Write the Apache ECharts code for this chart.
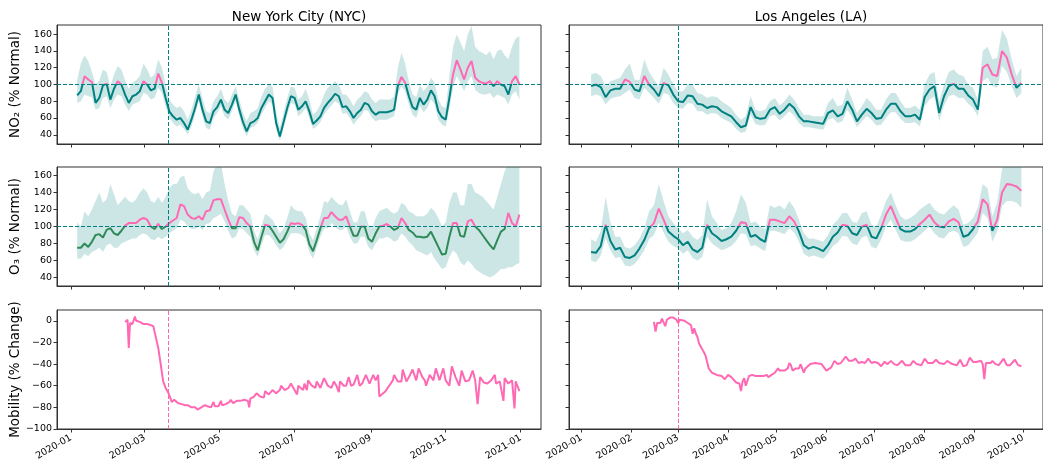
<!DOCTYPE html>
<html>
<head>
<meta charset="utf-8">
<script src="https://cdn.jsdelivr.net/npm/echarts@6/dist/echarts.min.js"></script>
<style>
  html, body { margin: 0; padding: 0; background: #fff; }
  #chart { width: 1043px; height: 463px; }
</style>
</head>
<body>
<div id="chart"></div>
<script>
// pollution: one reading every 3 days
const nycStart = '2020-01-06';
const laStart = '2020-01-07';
const stepDays = 3;

const nycNo2 = [87,92,110,106,103,78,84,99,101,82, 95,104,100,88,78,86,88,92,104,100,
  93,95,113,102,84,68,62,58,60,54, 46,58,72,88,70,56,54,68,73,82,
  70,66,76,88,70,55,44,54,56,60, 72,80,88,84,54,38,55,72,86,84,
  70,74,80,68,53,57,62,72,78,83, 89,86,73,74,68,60,66,70,78,76,
  68,64,67,67,67,68,70,98,109,102, 86,73,70,84,76,82,93,86,68,61,
  58,84,112,129,118,106,120,128,108,104, 102,101,104,98,104,100,98,88,104,110, 100];
const nycNo2Hi = [105,125,135,128,115,100,105,118,115,98, 112,122,118,105,95,102,105,110,125,118,
  108,112,130,120,100,82,76,72,74,68, 58,70,86,100,84,68,66,80,86,95,
  82,78,88,98,82,66,56,66,68,72, 86,95,100,98,66,48,66,84,98,96,
  82,86,95,82,64,68,76,88,96,100, 104,100,88,88,82,74,82,86,92,90,
  82,78,82,82,82,82,86,120,138,125, 104,88,85,100,92,98,108,102,82,74,
  72,110,145,160,150,140,160,170,145,140, 138,135,140,130,140,142,135,130,145,155, 158];
const nycNo2Lo = [78,80,88,86,85,70,72,84,86,72, 82,88,86,76,68,76,78,80,90,88,
  82,84,96,90,74,60,54,50,52,47, 40,50,64,80,62,48,46,60,66,74,
  62,58,68,80,62,47,38,48,50,54, 64,72,80,76,46,33,48,64,78,76,
  62,66,72,60,47,50,55,64,70,75, 80,77,65,66,60,52,58,62,70,68,
  60,56,58,58,58,60,62,88,98,92, 76,64,60,74,67,72,82,76,58,52,
  50,72,96,110,102,92,104,110,94,90, 88,88,90,84,88,86,84,76,88,92, 82];

const nycO3 = [75,75,80,76,82,90,91,87,96,98, 92,90,95,101,104,104,104,108,110,108,
  100,97,103,97,100,104,107,110,126,124, 114,110,109,112,108,118,119,131,132,132,
  120,108,98,98,111,110,104,100,82,72, 88,102,101,95,88,81,85,94,104,103,
  104,102,96,79,71,84,98,110,110,117, 112,108,108,112,100,89,89,100,100,86,
  82,92,100,101,103,100,96,98,110,104, 96,93,88,88,87,88,94,85,76,67,
  68,88,104,104,89,88,106,108,100,96, 90,84,78,73,84,94,97,116,104,100, 114];
const nycO3Hi = [105,100,118,112,120,130,140,128,132,150, 138,125,130,135,130,128,132,140,145,140,
  130,128,135,128,135,145,150,150,158,160, 145,140,138,140,132,140,142,165,175,175,
  150,130,115,112,125,125,120,115,95,85, 100,115,112,108,100,92,98,110,125,120,
  118,118,110,92,84,98,112,130,128,135, 130,126,125,132,118,105,105,118,118,102,
  98,110,118,120,122,118,115,118,128,125, 118,116,112,112,112,115,122,118,110,100,
  105,128,140,140,125,125,150,150,140,138, 135,130,125,120,135,150,165,175,175,175, 175];
const nycO3Lo = [62,62,68,65,70,72,75,70,78,80, 75,75,80,82,84,86,86,90,92,90,
  85,84,88,85,88,92,95,98,108,106, 100,97,97,100,96,103,104,110,112,115,
  106,95,86,88,98,97,92,88,72,64, 78,90,90,85,78,72,76,84,92,92,
  92,90,86,70,62,75,88,98,98,104, 100,96,96,100,88,80,80,88,88,76,
  72,80,86,86,88,86,82,84,92,88, 82,78,72,70,68,66,70,62,56,50,
  52,64,72,68,58,54,60,56,50,47, 44,42,40,42,46,50,50,52,52,55, 57];

const laNo2 = [98,100,97,85,93,95,95,106,103,94, 92,110,100,94,86,102,99,88,80,79,
  87,86,77,76,72,74,73,68,65,62, 55,49,51,73,61,59,60,70,73,65,
  70,77,72,62,56,56,55,54,53,66, 69,62,65,80,70,56,64,71,66,59,
  60,70,77,77,68,62,62,64,58,85, 94,98,66,86,98,101,95,95,87,82,
  70,120,124,112,110,140,132,112,96,102];
const laNo2Hi = [112,114,110,98,104,106,108,118,125,106, 105,130,115,106,98,120,112,100,92,92,
  100,100,90,88,84,86,85,80,76,72, 64,58,62,86,70,68,70,80,84,75,
  80,88,82,72,64,64,62,62,62,78, 84,74,76,96,82,66,74,84,78,70,
  70,82,90,90,80,72,72,75,70,100, 112,115,80,100,115,118,112,110,100,96,
  82,140,145,130,132,165,155,130,110,120];
const laNo2Lo = [86,88,86,76,83,85,86,90,94,84, 82,96,90,84,77,90,88,78,72,71,
  78,77,68,68,64,66,65,60,57,54, 47,42,44,64,53,51,52,62,64,57,
  62,68,63,54,49,49,48,47,46,58, 60,54,56,70,61,49,56,62,58,51,
  52,60,67,67,59,54,54,55,50,74, 82,86,56,75,86,88,84,84,77,72,
  62,104,108,98,96,122,115,98,84,90];

const laO3 = [70,69,77,102,83,73,75,64,63,66, 74,84,98,104,121,108,94,89,85,78,
  82,73,70,75,102,92,88,83,85,88, 95,105,104,88,90,85,82,108,108,106,
  104,112,106,94,78,74,76,74,71,78, 88,93,102,101,92,90,100,102,88,86,
  98,114,124,110,97,94,94,97,103,108, 114,105,100,99,106,109,105,88,90,97,
  106,132,126,95,108,140,150,149,147,142];
const laO3Hi = [85,82,95,135,105,88,88,76,74,78, 86,98,118,125,150,130,112,104,98,92,
  96,88,84,90,132,112,104,96,98,104, 118,138,128,104,106,100,97,125,122,125,
  120,130,122,108,92,86,86,84,82,90, 102,108,116,116,106,104,116,118,102,100,
  114,130,140,125,112,108,110,114,120,124, 128,120,116,114,120,125,120,102,104,110,
  122,150,145,112,128,168,175,175,175,172];
const laO3Lo = [60,58,66,86,72,63,64,54,53,56, 63,72,85,90,104,93,82,77,74,68,
  72,63,60,64,88,80,76,72,74,77, 83,92,91,77,78,74,71,95,95,93,
  91,98,93,82,68,64,66,64,62,68, 77,81,89,88,80,78,87,89,76,74,
  85,100,108,96,84,82,82,85,90,95, 100,92,87,86,93,95,92,76,78,85,
  93,116,110,82,94,124,130,130,128,122];

// mobility, 2020 dates (MM-DD)
const nycMobDates = ['02-14','02-16','02-17','02-18','02-20','02-22','02-23','02-26','02-29','03-03',
  '03-06','03-08','03-09','03-12','03-14','03-16','03-18','03-20','03-22','03-23',
  '03-25','03-28','03-31','04-03','04-05','04-08','04-11','04-13','04-16','04-19',
  '04-21','04-24','04-26','04-27','04-30','05-02','05-03','05-06','05-09','05-10',
  '05-12','05-15','05-18','05-21','05-24','05-25','05-26','05-29','05-31','06-03',
  '06-06','06-07','06-10','06-13','06-16','06-19','06-20','06-23','06-26','06-28',
  '06-30','07-03','07-04','07-06','07-08','07-09','07-11','07-12','07-15','07-18',
  '07-19','07-22','07-25','07-28','07-31','08-02','08-04','08-06','08-07','08-10',
  '08-12','08-14','08-16','08-18','08-21','08-23','08-25','08-28','08-31','09-03',
  '09-05','09-07','09-08','09-13','09-16','09-19','09-20','09-23','09-26','09-27',
  '09-30','10-03','10-05','10-08','10-10','10-13','10-15','10-16','10-19','10-22',
  '10-24','10-27','10-30','11-01','11-04','11-06','11-09','11-12','11-14','11-17',
  '11-20','11-23','11-25','11-27','11-29','12-02','12-05','12-08','12-11','12-12',
  '12-15','12-18','12-19','12-22','12-25','12-27','12-28','12-30','12-31'];
const nycMobVals = [-1,1,-25,-2,-3,4,0,-1,-3,-3,
  -4,-5,-10,-25,-40,-56,-62,-66,-72,-75,
  -73,-76,-77,-78,-78,-80,-80,-82,-80,-78,
  -79,-80,-75,-79,-79,-74,-78,-77,-75,-73,
  -76,-74,-74,-73,-74,-80,-72,-70,-67,-70,
  -71,-65,-68,-64,-67,-64,-60,-64,-62,-58,
  -62,-68,-60,-62,-64,-58,-64,-55,-60,-62,
  -56,-62,-53,-60,-62,-56,-60,-66,-56,-60,
  -60,-52,-60,-59,-50,-60,-58,-50,-58,-50,
  -55,-50,-70,-65,-60,-55,-50,-56,-56,-45,
  -56,-50,-45,-55,-44,-52,-55,-60,-50,-55,
  -44,-55,-44,-55,-60,-42,-52,-60,-46,-56,
  -55,-46,-55,-77,-52,-57,-58,-55,-50,-58,
  -56,-74,-53,-58,-55,-81,-56,-62,-65];

const laMobDates = ['02-15','02-16','02-17','02-19','02-20','02-22','02-23','02-25','02-27','02-29',
  '03-01','03-02','03-05','03-07','03-09','03-10','03-11','03-12','03-13','03-14',
  '03-15','03-17','03-18','03-20','03-22','03-25','03-28','03-30','04-01','04-03',
  '04-04','04-06','04-08','04-09','04-10','04-11','04-12','04-14','04-16','04-18',
  '04-19','04-21','04-23','04-25','04-26','04-28','04-30','05-02','05-03','05-06',
  '05-08','05-09','05-10','05-11','05-13','05-15','05-16','05-18','05-19','05-22',
  '05-25','05-29','05-30','06-01','06-04','06-06','06-08','06-10','06-13','06-15',
  '06-17','06-19','06-21','06-23','06-25','06-27','06-29','07-01','07-03','07-05',
  '07-07','07-09','07-11','07-13','07-15','07-18','07-20','07-23','07-25','07-27',
  '07-30','08-01','08-03','08-06','08-08','08-10','08-13','08-15','08-18','08-21',
  '08-23','08-25','08-27','08-29','08-31','09-02','09-05','09-06','09-07','09-08',
  '09-11','09-12','09-14','09-16','09-19','09-21','09-23','09-26','09-28','09-30'];
const laMobVals = [-1,-10,-2,-2,2,-5,1,3,3,1,
  -2,1,0,-2,-4,-12,-7,-12,-15,-21,
  -21,-29,-32,-44,-48,-50,-51,-54,-50,-52,
  -51,-57,-58,-65,-56,-53,-60,-51,-50,-51,
  -50,-51,-51,-50,-52,-50,-48,-44,-46,-46,
  -44,-39,-41,-46,-44,-44,-40,-48,-44,-40,
  -39,-40,-39,-46,-43,-37,-40,-39,-33,-37,
  -37,-35,-39,-38,-39,-35,-39,-38,-39,-42,
  -38,-40,-37,-40,-41,-37,-41,-41,-37,-40,
  -41,-35,-39,-39,-36,-39,-40,-37,-40,-41,
  -36,-42,-41,-34,-38,-38,-37,-40,-54,-39,
  -39,-37,-40,-41,-35,-41,-41,-36,-41,-42];

const nycTicks = ['2020-01','2020-03','2020-05','2020-07','2020-09','2020-11','2021-01'];
const laTicks = ['2020-01','2020-02','2020-03','2020-04','2020-05','2020-06','2020-07','2020-08','2020-09','2020-10'];
const pollutionTicks = [40,60,80,100,120,140,160];
const mobilityTicks = [-100,-80,-60,-40,-20,0];

const TEAL = '#008080';
const GREEN = '#2e8b57';
const PINK = '#ff69b4';
const BAND = 'rgba(0,128,128,0.2)';
const FONT = 'DejaVu Sans';

// dates become timestamps on a plain value axis
const ts = s => +echarts.number.parseDate(s.length === 7 ? s + '-01' : s);
function seqDates(start, n, step) {
  const p = start.split('-').map(Number);
  const out = [];
  for (let i = 0; i < n; i++) out.push(+new Date(p[0], p[1] - 1, p[2] + i * step));
  return out;
}
const pairs = (xs, vals) => xs.map((x, i) => [x, vals[i]]);
const fmtMonth = v => { const d = new Date(v); return d.getFullYear() + '-' + String(d.getMonth() + 1).padStart(2, '0'); };

// pink above 100 %, own colour below: vertical gradient over the line's own extent
function splitColor(vals, below) {
  const mx = Math.max(...vals), mn = Math.min(...vals);
  if (mx <= 100) return below;
  const t = (mx - 100) / (mx - mn);
  return new echarts.graphic.LinearGradient(0, 0, 0, 1, [
    {offset: 0, color: PINK}, {offset: t, color: PINK},
    {offset: t, color: below}, {offset: 1, color: below}]);
}

const nycDates = seqDates(nycStart, nycNo2.length, stepDays);
const laDates = seqDates(laStart, laNo2.length, stepDays);

// layout
const colLeft = [57, 569], colWidth = [484, 485];
const rowTop = [25, 167, 310], rowH = 119;
const xRange = [['2019-12-20 14:00', '2021-01-17 14:00'], ['2019-12-24 07:00', '2020-10-13 10:00']];
const yRange = [[29, 171], [30, 170], [-100, 10]];
const eventDay = [ts('2020-03-20'), ts('2020-03-01')];
const yNames = ['NO\u2082 (% Normal)', 'O\u2083 (% Normal)', 'Mobility (% Change)'];

const chart = echarts.init(document.getElementById('chart'));

const grid = [], xAxis = [], yAxis = [], series = [];
for (let row = 0; row < 3; row++) {
  for (let col = 0; col < 2; col++) {
    const gi = row * 2 + col;
    grid.push({left: colLeft[col], top: rowTop[row], width: colWidth[col], height: rowH,
      show: true, borderColor: '#333', borderWidth: 1});
    const xt = (col === 0 ? nycTicks : laTicks).map(ts);
    xAxis.push({
      type: 'value', gridIndex: gi, min: ts(xRange[col][0]), max: ts(xRange[col][1]),
      axisLine: {show: true, onZero: false, lineStyle: {color: '#333', width: 1}},
      axisTick: {show: true, customValues: xt, length: 3.5, lineStyle: {color: '#333'}},
      axisLabel: {show: row === 2, customValues: xt, rotate: 30, margin: 8,
        fontFamily: FONT, fontSize: 9.5, color: '#000', formatter: fmtMonth},
      splitLine: {show: false}
    });
    const yt = row === 2 ? mobilityTicks : pollutionTicks;
    yAxis.push({
      type: 'value', gridIndex: gi, min: yRange[row][0], max: yRange[row][1],
      name: col === 0 ? yNames[row] : '', nameLocation: 'middle', nameGap: 35, nameRotate: 90,
      nameTextStyle: {fontFamily: FONT, fontSize: 13.5, color: '#000'},
      axisLine: {show: true, onZero: false, lineStyle: {color: '#333', width: 1}},
      axisTick: {show: true, customValues: yt, length: 3.5, lineStyle: {color: '#333'}},
      axisLabel: {show: col === 0, customValues: yt, margin: 5, fontFamily: FONT, fontSize: 9.5, color: '#000',
        formatter: v => String(v).replace('-', '\u2212')},
      splitLine: {show: false}
    });
  }
}

const panels = [
  {gi: 0, dates: nycDates, v: nycNo2, lo: nycNo2Lo, hi: nycNo2Hi, color: TEAL, ev: eventDay[0]},
  {gi: 1, dates: laDates, v: laNo2, lo: laNo2Lo, hi: laNo2Hi, color: TEAL, ev: eventDay[1]},
  {gi: 2, dates: nycDates, v: nycO3, lo: nycO3Lo, hi: nycO3Hi, color: GREEN, ev: eventDay[0]},
  {gi: 3, dates: laDates, v: laO3, lo: laO3Lo, hi: laO3Hi, color: TEAL, ev: eventDay[1]}
];

panels.forEach(p => {
  // band between lower and upper readings, one polygon through the axes' scales
  series.push({type: 'custom', xAxisIndex: p.gi, yAxisIndex: p.gi, silent: true, clip: true, z: 1,
    data: [[p.dates[0], p.lo[0]]],
    renderItem: (params, api) => {
      const pts = [];
      for (let i = 0; i < p.dates.length; i++) pts.push(api.coord([p.dates[i], p.hi[i]]));
      for (let i = p.dates.length - 1; i >= 0; i--) pts.push(api.coord([p.dates[i], p.lo[i]]));
      return {type: 'polygon', shape: {points: pts}, style: {fill: BAND, stroke: null}};
    }});
  series.push({type: 'line', xAxisIndex: p.gi, yAxisIndex: p.gi, silent: true, symbol: 'none',
    data: pairs(p.dates, p.v), lineStyle: {width: 2, color: splitColor(p.v, p.color)}, z: 3,
    markLine: {silent: true, symbol: 'none', label: {show: false},
      lineStyle: {color: TEAL, width: 1, type: [4, 2]},
      data: [{xAxis: p.ev}, {yAxis: 100}]}});
});

[[4, nycMobDates, nycMobVals, eventDay[0]], [5, laMobDates, laMobVals, eventDay[1]]].forEach(([gi, dates, vals, ev]) => {
  series.push({type: 'line', xAxisIndex: gi, yAxisIndex: gi, silent: true, symbol: 'none',
    data: dates.map((d, i) => [ts('2020-' + d), vals[i]]),
    lineStyle: {width: 2, color: PINK}, itemStyle: {color: PINK}, z: 3,
    markLine: {silent: true, symbol: 'none', label: {show: false},
      lineStyle: {color: PINK, width: 1, type: [4, 2]},
      data: [{xAxis: ev}]}});
});

chart.setOption({
  animation: false,
  backgroundColor: '#fff',
  title: [
    {text: 'New York City (NYC)', left: 299, top: 10, textAlign: 'center', padding: 0,
      textStyle: {fontFamily: FONT, fontSize: 13.5, fontWeight: 'normal', color: '#000'}},
    {text: 'Los Angeles (LA)', left: 811, top: 10, textAlign: 'center', padding: 0,
      textStyle: {fontFamily: FONT, fontSize: 13.5, fontWeight: 'normal', color: '#000'}}
  ],
  grid, xAxis, yAxis, series
});
</script>
</body>
</html>
